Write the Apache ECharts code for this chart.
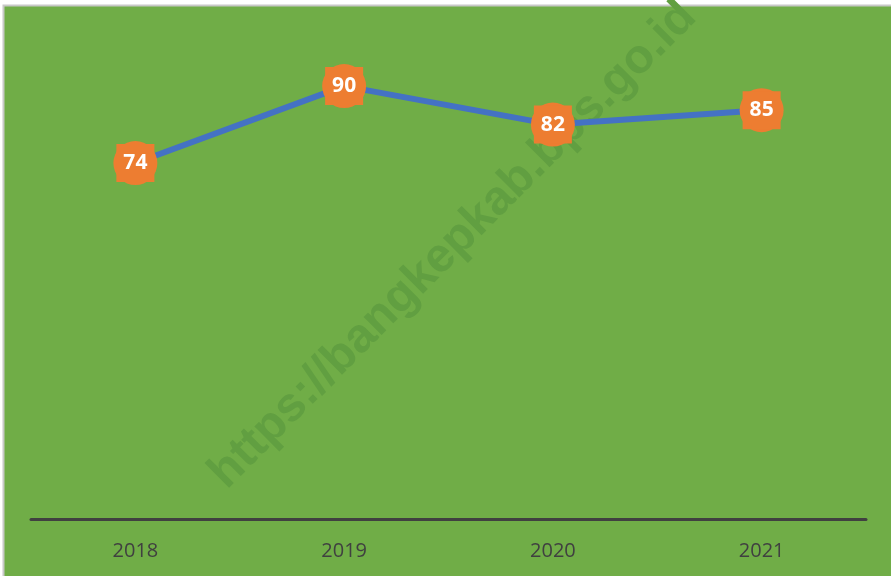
<!DOCTYPE html>
<html>
<head>
<meta charset="utf-8">
<script src="https://cdn.jsdelivr.net/npm/echarts@6/dist/echarts.min.js"></script>
<style>
  html, body { margin: 0; padding: 0; background: #fff; }
  #chart { width: 891px; height: 576px; }
</style>
</head>
<body>
<div id="chart"></div>
<script>
// data
var years = ['2018', '2019', '2020', '2021'];
var values = [74, 90, 82, 85];

var chart = echarts.init(document.getElementById('chart'));

var option = {
  animation: false,
  backgroundColor: '#ffffff',
  graphic: [
    {
      // green chart area with thin grey frame (cropped on right/bottom)
      type: 'rect',
      z: -10,
      shape: { x: 3.5, y: 5.5, width: 900, height: 600 },
      style: { fill: '#70AD47', stroke: '#c8c8c8', lineWidth: 2 }
    },
    {
      // watermark
      type: 'text',
      z: -5,
      x: 453,
      y: 245,
      rotation: Math.PI / 4,
      style: {
        text: 'https://bangkepkab.bps.go.id',
        font: 'bold 48px "Liberation Sans", Arial, sans-serif',
        fill: '#619f41',
        align: 'center',
        verticalAlign: 'middle'
      }
    }
  ],
  grid: { left: 31, right: 25, top: 38, bottom: 57 },
  xAxis: {
    type: 'category',
    data: years,
    boundaryGap: true,
    axisLine: { lineStyle: { color: '#404040', width: 3 } },
    axisTick: { show: false },
    axisLabel: {
      color: '#404040',
      fontSize: 20,
      fontFamily: '"Open Sans", sans-serif',
      margin: 22
    }
  },
  yAxis: {
    type: 'value',
    min: 0,
    max: 100,
    show: false,
    splitLine: { show: false }
  },
  series: [
    {
      type: 'line',
      data: values,
      symbol: 'circle',
      symbolSize: 44,
      lineStyle: { color: '#4472C4', width: 6 },
      itemStyle: { color: '#ED7D31' },
      label: {
        show: true,
        position: 'inside',
        color: '#ffffff',
        fontSize: 21,
        fontWeight: 'bold',
        fontFamily: '"Open Sans", sans-serif',
        backgroundColor: '#ED7D31',
        width: 38,
        height: 38,
        lineHeight: 38,
        align: 'center',
        verticalAlign: 'middle',
        padding: 0
      }
    }
  ]
};

chart.setOption(option);
</script>
</body>
</html>
